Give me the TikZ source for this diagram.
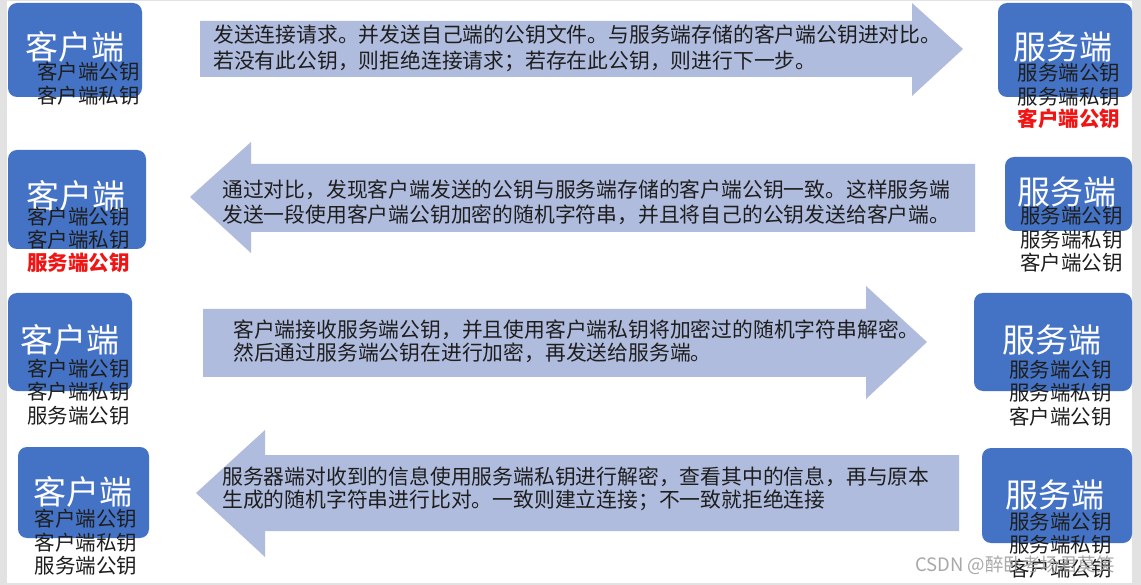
\documentclass[tikz,border=0pt]{standalone}
\usepackage{fontspec}
\setmainfont{Noto Sans CJK SC}
\definecolor{boxblue}{RGB}{68,114,196}
\definecolor{arrowfill}{RGB}{176,188,222}
\definecolor{framegray}{RGB}{226,226,226}
\definecolor{txt}{RGB}{30,30,30}
\definecolor{keyred}{RGB}{240,20,20}
\tikzset{
  box/.style={rectangle, rounded corners=9pt, fill=boxblue, draw=none, inner sep=0pt},
  title/.style={inner sep=0pt, text=white, font=\fontsize{33}{36}\selectfont},
  keys/.style={inner sep=0pt, text=txt, align=center, font=\fontsize{20.5}{23.5}\selectfont},
  redkey/.style={inner sep=0pt, text=keyred, font=\bfseries\fontsize{20.5}{23.5}\selectfont},
  blockarrow/.style={fill=arrowfill, draw=none},
  msg/.style={inner sep=0pt, text=txt, align=left, anchor=west},
}
\begin{document}
\begin{tikzpicture}[x=1pt,y=-1pt]
\useasboundingbox (0,0) rectangle (1141,585);
\fill[framegray] (0,0) rectangle (1141,585);
\fill[white] (7,1) rectangle (1132,583);

% block arrows
\fill[blockarrow] (200,21) -- (912,21) -- (912,3) -- (963,49) -- (912,96) -- (912,77) -- (200,77) -- cycle;
\fill[blockarrow] (975,164) -- (251,164) -- (251,142) -- (190,197) -- (251,253) -- (251,232) -- (975,232) -- cycle;
\fill[blockarrow] (203,309) -- (866,309) -- (866,286) -- (927,342) -- (866,399) -- (866,377) -- (203,377) -- cycle;
\fill[blockarrow] (959,455) -- (265,455) -- (265,430) -- (196,493) -- (265,557) -- (265,531) -- (959,531) -- cycle;

% messages
\node[msg, font=\fontsize{20.8}{26}\selectfont] (m1) at (213,48) {发送连接请求。并发送自己端的公钥文件。与服务端存储的客户端公钥进对比。\\若没有此公钥，则拒绝连接请求；若存在此公钥，则进行下一步。};
\node[msg, font=\fontsize{20.8}{25}\selectfont] (m2) at (222,202.5) {通过对比，发现客户端发送的公钥与服务端存储的客户端公钥一致。这样服务端\\发送一段使用客户端公钥加密的随机字符串，并且将自己的公钥发送给客户端。};
\node[msg, font=\fontsize{20.8}{23}\selectfont] (m3) at (233,341.5) {客户端接收服务端公钥，并且使用客户端私钥将加密过的随机字符串解密。\\然后通过服务端公钥在进行加密，再发送给服务端。};
\node[msg, font=\fontsize{20.8}{23}\selectfont] (m4) at (222,488.5) {服务器端对收到的信息使用服务端私钥进行解密，查看其中的信息，再与原本\\生成的随机字符串进行比对。一致则建立连接；不一致就拒绝连接};

% boxes
\node[box, minimum width=134, minimum height=94] (c1) at (75,50) {};
\node[box, minimum width=134, minimum height=94] (s1) at (1065,50) {};
\node[box, minimum width=138, minimum height=99] (c2) at (77,199.5) {};
\node[box, minimum width=127, minimum height=74] (s2) at (1068.5,194) {};
\node[box, minimum width=124, minimum height=98] (c3) at (70,342) {};
\node[box, minimum width=158, minimum height=98] (s3) at (1053,342) {};
\node[box, minimum width=131, minimum height=91] (c4) at (83.5,492.5) {};
\node[box, minimum width=150, minimum height=95] (s4) at (1057,495.5) {};

% titles
\node[title] (c1t) at (75,47) {客户端};
\node[title] (s1t) at (1063,47) {服务端};
\node[title] (c2t) at (76,196) {客户端};
\node[title] (s2t) at (1067,192) {服务端};
\node[title] (c3t) at (70,340) {客户端};
\node[title] (s3t) at (1052,340) {服务端};
\node[title] (c4t) at (83,492) {客户端};
\node[title] (s4t) at (1055,495) {服务端};

% keys
\node[keys] (c1k) at (88.5,83.5) {客户端公钥\\客户端私钥};
\node[keys] (s1k) at (1069,85) {服务端公钥\\服务端私钥};
\node[redkey] (s1r) at (1069,119) {客户端公钥};
\node[keys] (c2k) at (78.5,228) {客户端公钥\\客户端私钥};
\node[redkey] (c2r) at (78.5,263) {服务端公钥};
\node[keys] (s2k) at (1071.5,239.5) {服务端公钥\\服务端私钥\\客户端公钥};
\node[keys] (c3k) at (78.5,392) {客户端公钥\\客户端私钥\\服务端公钥};
\node[keys] (s3k) at (1060.5,393) {服务端公钥\\服务端私钥\\客户端公钥};
\node[keys] (c4k) at (86,542.5) {客户端公钥\\客户端私钥\\服务端公钥};
\node[keys] (s4k) at (1060.5,545) {服务端公钥\\服务端私钥\\客户端公钥};

% watermark
\node[inner sep=0pt, anchor=west, text=gray!80, opacity=0.85, font=\fontsize{18.5}{22}\selectfont] (wm) at (915,565) {CSDN @醉卧考场君莫笑};
\end{tikzpicture}
\end{document}
